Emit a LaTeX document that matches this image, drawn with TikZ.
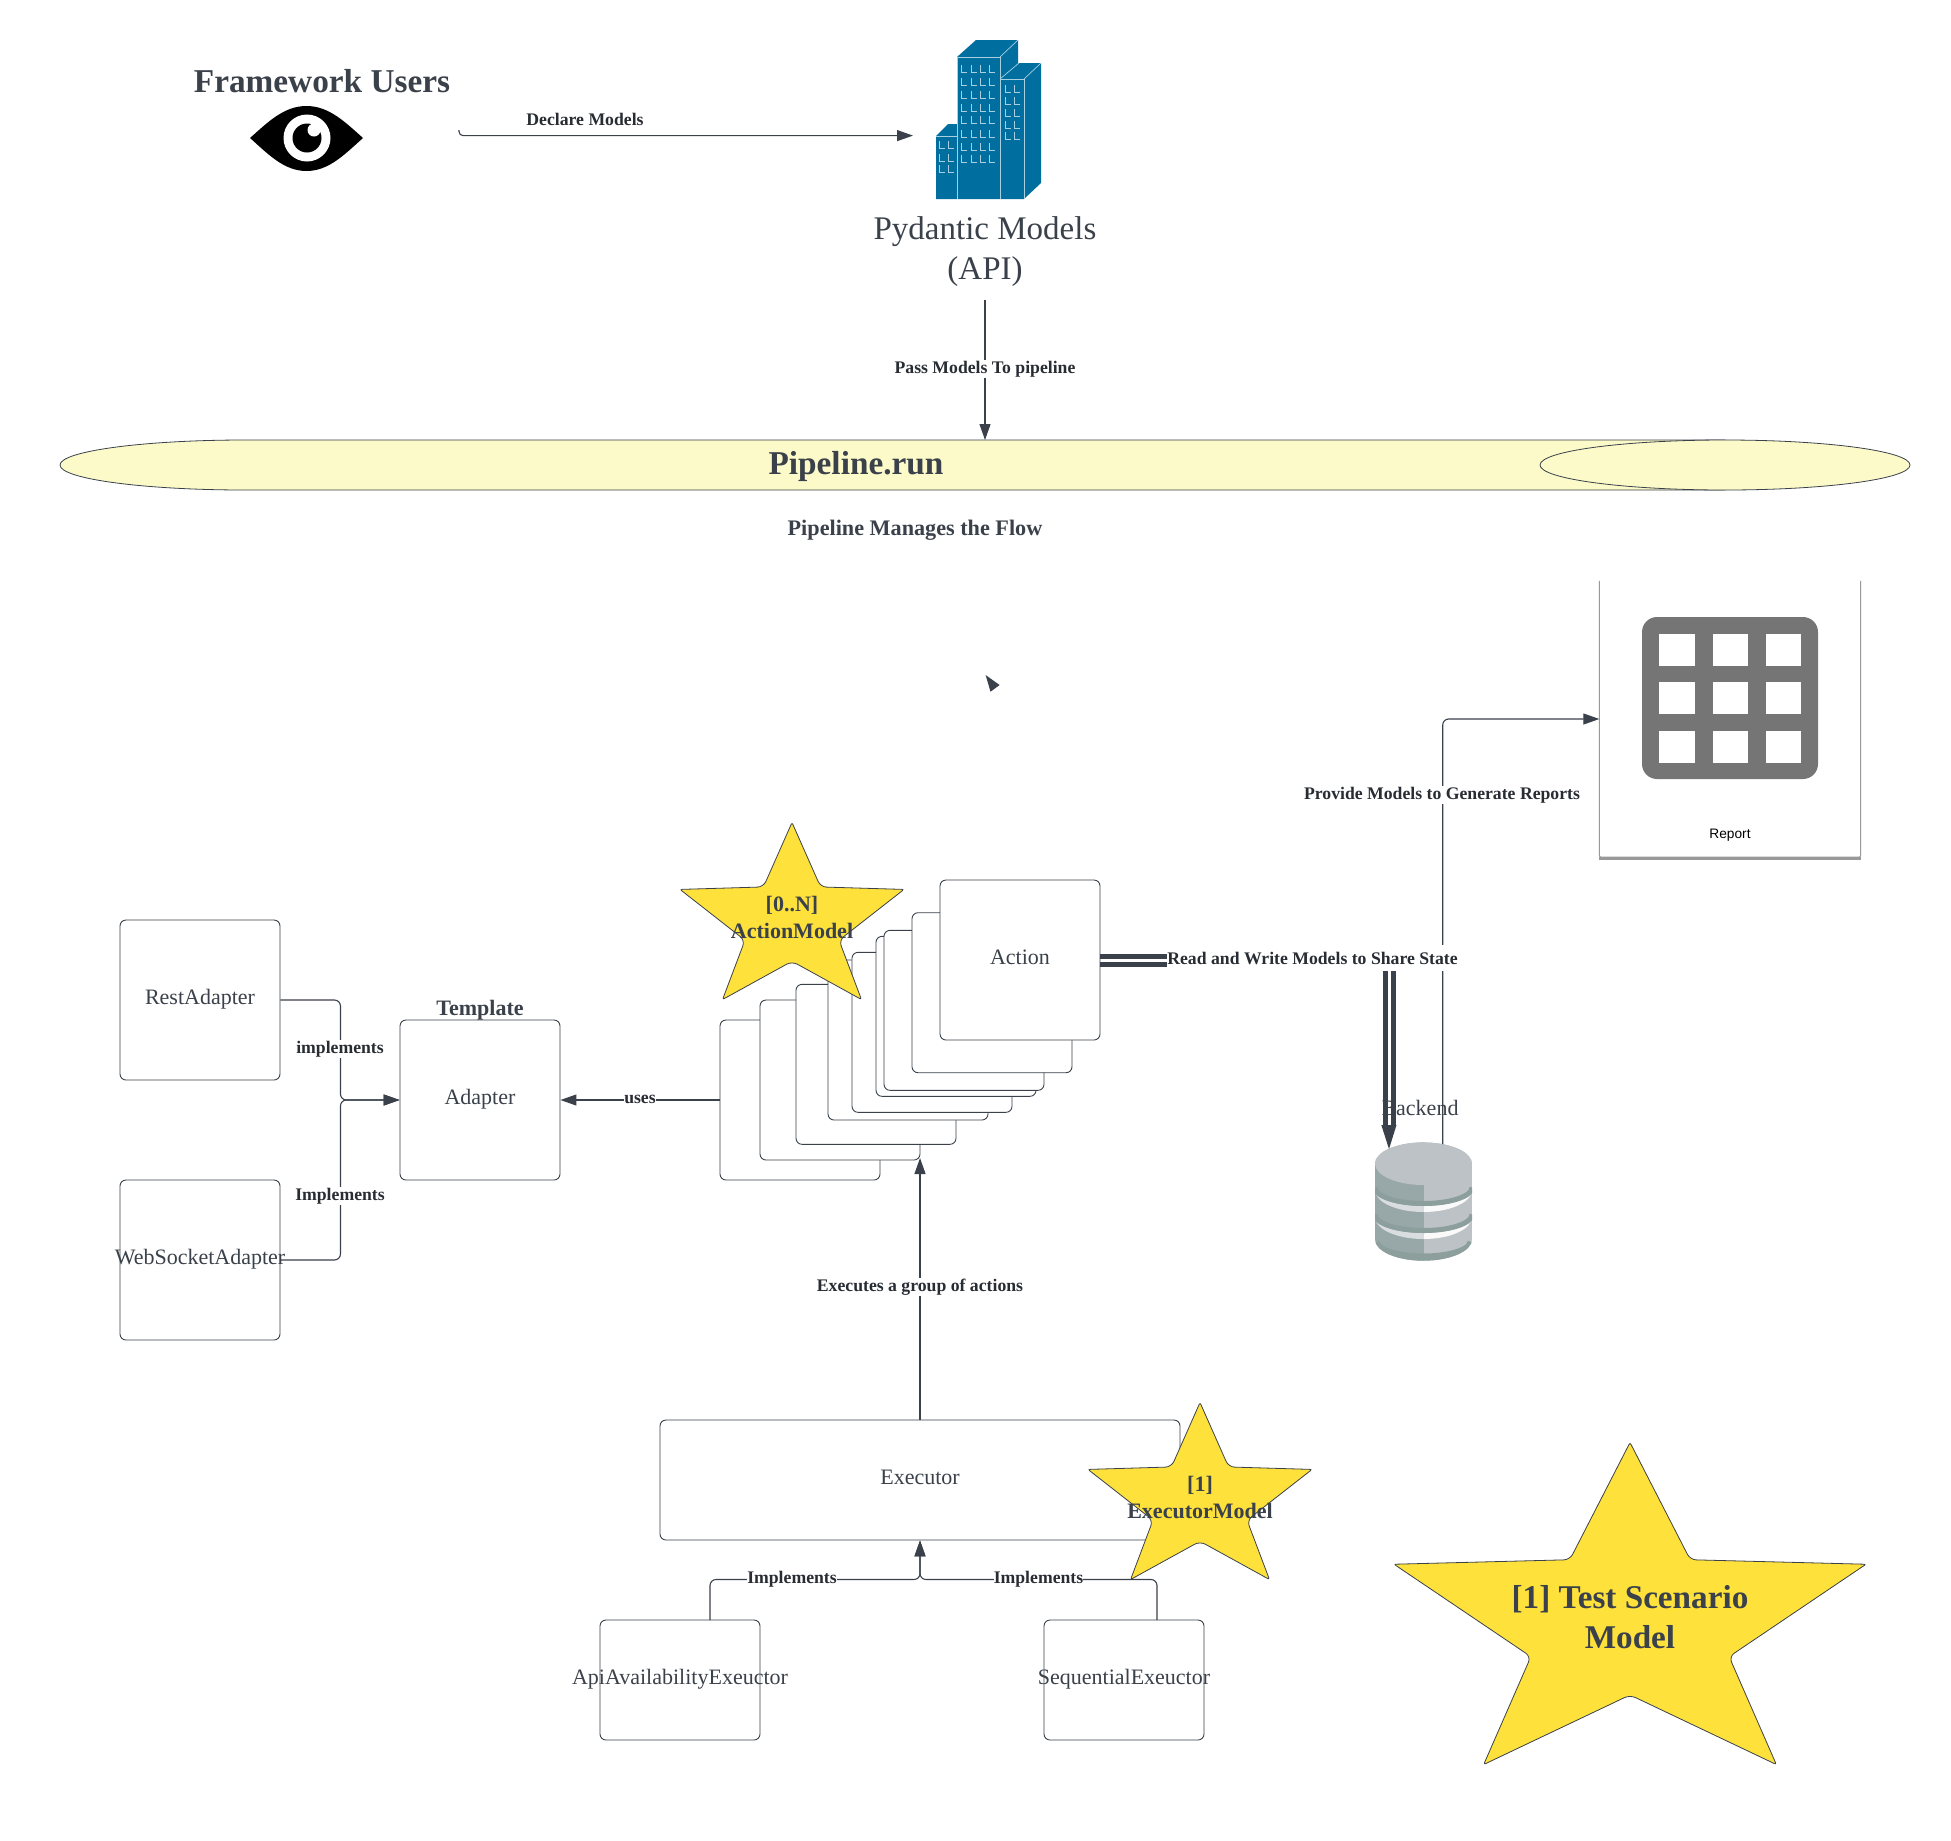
\documentclass[tikz,border=0pt]{standalone}
\usepackage{fontspec}
\setmainfont{Liberation Serif}
\newfontfamily\reportfont{Liberation Sans}
\usetikzlibrary{arrows.meta}
\definecolor{inkdark}{HTML}{3A414A}
\definecolor{labeldark}{HTML}{282C33}
\definecolor{pipeyellow}{HTML}{FCFAC8}
\definecolor{stargold}{HTML}{FFE13C}
\definecolor{towerblue}{HTML}{006E9E}
\definecolor{windowblue}{HTML}{A8CFE0}
\definecolor{gridgray}{HTML}{757575}
\definecolor{dbtop}{HTML}{BCC2C5}
\definecolor{dbleft}{HTML}{98A8A8}
\definecolor{dbdark}{HTML}{8C9F9D}

\tikzset{
  classbox/.style={draw=inkdark, line width=0.9pt, rounded corners=6pt, fill=white, minimum width=160pt, minimum height=160pt, inner sep=0pt, text=inkdark, font=\fontsize{22}{26}\selectfont, text height=16pt, text depth=7pt},
  heading/.style={text=inkdark, font=\bfseries\fontsize{22}{27}\selectfont, align=center, inner sep=0pt},
  plain/.style={text=inkdark, font=\fontsize{33}{40}\selectfont, align=center, inner sep=0pt},
  edgelabel/.style={fill=white, text=labeldark, font=\bfseries\fontsize{17.7}{22}\selectfont, inner xsep=0pt, inner ysep=1pt},
  link/.style={draw=inkdark, line width=1.1pt, rounded corners=6pt},
  flow/.style={link, -{Triangle[length=16pt,width=11pt]}},
  sharedline/.style={draw=inkdark, line width=5pt},
  starline/.style={draw=inkdark, line width=0.8pt, fill=stargold},
  modelstar/.pic={
    \path[starline] (0,0) [rounded corners=6pt] -- (.255,.364) [rounded corners=2pt] -- (1,.378) [rounded corners=6pt] -- (.42,.665) [rounded corners=2pt] -- (.62,1) [rounded corners=6pt] -- (0,.784) [rounded corners=2pt] -- (-.62,1) [rounded corners=6pt] -- (-.42,.665) [rounded corners=2pt] -- (-1,.378) [rounded corners=6pt] -- (-.255,.364) [rounded corners=2pt] -- cycle;
  }
}

\begin{document}
\begin{tikzpicture}[x=1pt,y=-1pt]
\useasboundingbox (0,0) rectangle (1951,1840);

% users
\node[plain, font=\bfseries\fontsize{33.3}{40}\selectfont] (users) at (322,81) {Framework Users};
\fill[black] (250,138) .. controls (268,122) and (284,106) .. (306.5,106) .. controls (329,106) and (345,122) .. (363,138) .. controls (345,154) and (329,171) .. (306.5,171) .. controls (284,171) and (268,154) .. (250,138) -- cycle;
\fill[white] (307,138) circle (23.5);
\fill[black] (307,138) circle (14.5);
\fill[white] (314,130) circle (6.5);

% towers
\fill[towerblue] (957,57) -- (976,40) -- (1018,40) -- (1018,63) -- (1041,63) -- (1041,183) -- (1024,199) -- (936,199) -- (936,136) -- (948,124) -- (957,124) -- cycle;
\draw[windowblue, line width=0.7pt] (957,199) -- (957,57) -- (1000,57) -- (1000,199);
\draw[windowblue, line width=0.7pt] (1000,79) -- (1024,79) -- (1024,199);
\draw[windowblue, line width=0.7pt] (936,136) -- (957,136);
\draw[windowblue, line width=0.7pt] (1000,57) -- (1018,40);
\draw[windowblue, line width=0.7pt] (1000,79) -- (1019,63);
\draw[windowblue, line width=0.7pt] (1024,79) -- (1041,63);
\foreach \x in {961,971,980,989}{
  \foreach \y in {72,85,98,111,123,137,150,162}{
    \draw[windowblue, line width=0.8pt] (\x,\y-7) |- ++(6,7);
  }
}
\foreach \x in {1005,1014}{
  \foreach \y in {92,104,116,128,139}{
    \draw[windowblue, line width=0.8pt] (\x,\y-7) |- ++(6,7);
  }
}
\foreach \x in {939,948}{
  \foreach \y in {148,161,172}{
    \draw[windowblue, line width=0.8pt] (\x,\y-7) |- ++(6,7);
  }
}
\node[plain] (models) at (985,252) {Pydantic Models\\(API)};

% pipeline
\filldraw[draw=inkdark, fill=pipeyellow, line width=0.8pt] (245,440) arc[start angle=90, end angle=270, x radius=185, y radius=-25] -- (1725,490) -- (1725,440) -- cycle;
\filldraw[draw=inkdark, fill=pipeyellow, line width=0.8pt] (1725,465) ellipse [x radius=185, y radius=25];
\coordinate (pipetop) at (985,440);
\node[plain, font=\bfseries\fontsize{33.3}{40}\selectfont] (pipeline) at (856,466) {Pipeline.run};
\node[heading, font=\bfseries\fontsize{22.2}{27}\selectfont] (manages) at (915,530.5) {Pipeline Manages the Flow};
\fill[inkdark] (985.6,675) -- (999.6,685) -- (990.5,691.7) -- cycle;

% adapters
\node[classbox] (rest) at (200,1000) {RestAdapter};
\node[classbox] (websocket) at (200,1260) {\makebox[0pt]{WebSocketAdapter}};
\node[classbox] (adapter) at (480,1100) {Adapter};
\node[heading] (template) at (480,1010.5) {Template};

% stack of actions
\foreach \x/\y [count=\i] in {720/1020,760/1000,796/984.3,828/960,852/952.3,876/936.3,884/930.3,912/912.7,940/880}{
  \node[classbox] (action\i) at (\x+80,\y+80) {};
}
\node[classbox, fill=none, draw=none] (actiontext) at (action9) {Action};
\pic[xscale=112, yscale=177] at (792,822.5) {modelstar};
\node[heading] (actionstar) at (792,917) {[0..N]\\ActionModel};

% executors
\node[classbox, minimum width=520pt, minimum height=120pt] (executor) at (920,1480) {Executor};
\node[classbox, minimum height=120pt] (apiexec) at (680,1680) {\makebox[0pt]{ApiAvailabilityExeuctor}};
\node[classbox, minimum height=120pt] (seqexec) at (1124,1680) {\makebox[0pt]{SequentialExeuctor}};
\pic[xscale=112, yscale=177] at (1200,1402.5) {modelstar};
\node[heading] (execstar) at (1200,1497) {[1]\\ExecutorModel};

\pic[xscale=236, yscale=322] at (1630,1442.5) {modelstar};
\node[plain, font=\bfseries\fontsize{33.2}{40}\selectfont] (scenario) at (1630,1617) {[1] Test Scenario\\Model};

% report
\node[minimum width=261pt, minimum height=276pt, inner sep=0pt] (reportbox) at (1730,719) {};
\draw[gray!80, line width=1pt, rounded corners=2pt] (reportbox.north west) |- (reportbox.south east) -- (reportbox.north east);
\draw[gray!80, line width=3pt] ([yshift=-1.5pt]reportbox.south west) -- ([yshift=-1.5pt]reportbox.south east);
\fill[gridgray, rounded corners=15pt] (1642,617) rectangle (1818,779);
\foreach \x in {1659,1712.5,1765.5}{
  \foreach \y in {634,682,731}{
    \fill[white] (\x,\y) rectangle ++(35.5,32);
  }
}
\node[inner sep=0pt, font=\reportfont\fontsize{13.7}{17}\selectfont] (report) at (1730,835) {Report};

% database
\node[text=inkdark, inner sep=0pt, font=\fontsize{22}{26}\selectfont] (backend) at (1420,1108) {Backend};
\begin{scope}
\clip (1375,1163.7) arc[start angle=180, end angle=360, x radius=48.5, y radius=21.3] -- (1472,1239.4) arc[start angle=0, end angle=180, x radius=48.5, y radius=21.3] -- cycle;
\fill[dbleft] (1375,1140) rectangle (1423.5,1265);
\fill[dbtop] (1423.5,1140) rectangle (1472,1265);
\foreach \y in {1190,1217}{
  \fill[dbtop!55!white] (1375,\y) arc[start angle=180, end angle=90, x radius=48.5, y radius=22] -- ++(0,-6) arc[start angle=90, end angle=180, x radius=48.5, y radius=16] -- cycle;
  \fill[white!92!dbtop] (1423.5,\y+22) arc[start angle=90, end angle=0, x radius=48.5, y radius=22] arc[start angle=0, end angle=90, x radius=48.5, y radius=16] -- cycle;
}
\foreach \y/\w in {1187.5/5pt,1214.5/5pt,1242/9pt}{
  \draw[dbdark, line width=\w] (1375,\y) arc[start angle=180, end angle=0, x radius=48.5, y radius=16];
}
\fill[dbtop] (1423.5,1163.7) ellipse [x radius=48.5, y radius=21.3];
\end{scope}
\coordinate (dbwrite) at (1389.5,1125);
\coordinate (dbtip) at (1389,1149);
\coordinate (dbread) at (1442.7,1144);

% connectors
\coordinate (userout) at (459,130);
\coordinate (modelsin) at (913,135.6);
\draw[flow, rounded corners=4pt] (userout) |- (modelsin);
\node[edgelabel, fill=none] (declare) at (585,119) {Declare Models};
\draw[flow] ([yshift=-13pt]models.south) -- (pipetop);
\node[edgelabel] (passlabel) at (985,369) {Pass Models To pipeline};

\draw[flow] (rest.east) -- ++(60,0) |- (adapter.west);
\draw[flow] (websocket.east) -- ++(60,0) |- (adapter.west);
\node[edgelabel] (restlabel) at (340,1049) {implements};
\node[edgelabel] (weblabel) at (340,1196) {Implements};
\draw[flow] (action1.west) -- (adapter.east);
\node[edgelabel] (useslabel) at (640,1099) {uses};

\coordinate (actionin) at (920,1158);
\draw[flow] (executor.north) -- (actionin);
\node[edgelabel] (execlabel) at (920,1287) {Executes a group of actions};
\coordinate (execout) at (920,1579.5);
\coordinate (apiup) at (710,1620);
\coordinate (sequp) at (1157,1620);
\draw[flow] (apiup) |- (execout) -- (executor.south);
\draw[flow] (sequp) |- (execout) -- (executor.south);
\node[edgelabel] (apilabel) at (792,1579) {Implements};
\node[edgelabel] (seqlabel) at (1038.5,1579) {Implements};

\draw[sharedline] ([yshift=4pt]action9.east) -| ([xshift=4pt]dbwrite);
\draw[sharedline] ([yshift=-4pt]action9.east) -| ([xshift=-4pt]dbwrite);
\draw[draw=none, fill=inkdark] (1381.3,1125) -- (1396.5,1125) -- (dbtip) -- cycle;
\draw[flow] (dbread) |- (reportbox.west);
\node[edgelabel, minimum height=26pt] (sharelabel) at (1312.5,958) {Read and Write Models to Share State};
\node[edgelabel] (reportlabel) at (1442,795) {Provide Models to Generate Reports};
\end{tikzpicture}
\end{document}
